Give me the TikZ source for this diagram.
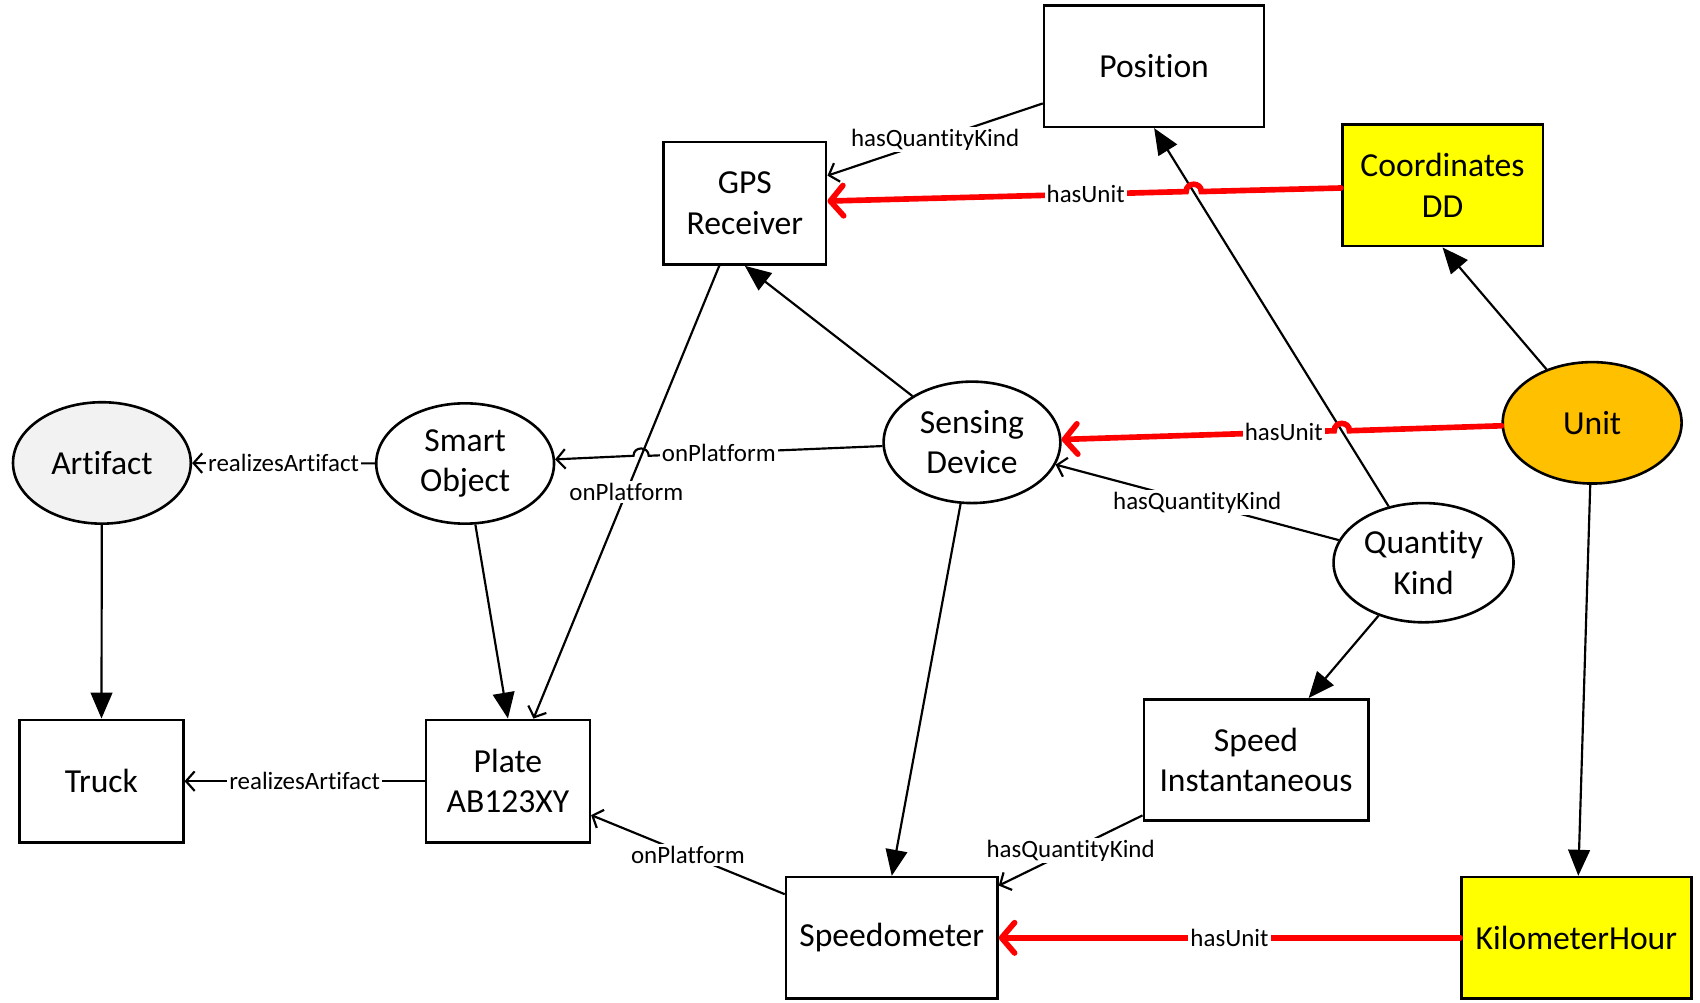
\documentclass[tikz,border=0pt]{standalone}
\usepackage{fontspec}
\setmainfont{Carlito}[Ligatures=NoCommon]
\usetikzlibrary{arrows.meta,calc,shapes.geometric}
\definecolor{unitorange}{HTML}{FFC000}
\definecolor{artgray}{HTML}{F2F2F2}
\definecolor{unityellow}{HTML}{FFFF00}
\begin{document}
\begin{tikzpicture}[x=0.5pt,y=-0.5pt,
  box/.style={draw, line width=1.2pt, rectangle, inner sep=0pt, align=center,
    font=\fontsize{15.5}{18.6}\selectfont},
  ell/.style={draw, line width=1.2pt, ellipse, inner sep=0pt, align=center,
    font=\fontsize{15.5}{18.6}\selectfont},
  isa/.style={line width=1pt, -{Triangle[length=12pt,width=10pt]}},
  rel/.style={line width=1pt, -{Straight Barb[length=4pt,width=9pt]}},
  unitrel/.style={draw=red, line width=2.6pt, line cap=round,
    -{Straight Barb[length=6pt,width=14pt,round]}},
  lbl/.style={fill=white, inner sep=1pt, text=black,
    font=\fontsize{11.5}{13}\selectfont}
]
\useasboundingbox (0,0) rectangle (1568,925);

% nodes
\node[box, minimum width=101.5pt, minimum height=56pt] (pos) at (1064.5,61) {Position};
\node[box, minimum width=75pt, minimum height=56.5pt] (gps) at (687,187.5) {GPS\\Receiver};
\node[box, fill=unityellow, minimum width=92.5pt, minimum height=56pt] (coord) at (1330.5,171) {Coordinates\\DD};
\node[ell, fill=unitorange, minimum width=82.5pt, minimum height=56pt] (unit) at (1468.5,390) {Unit};
\node[ell, minimum width=81.5pt, minimum height=56pt] (sd) at (896.5,408) {Sensing\\Device};
\node[ell, minimum width=82pt, minimum height=55.5pt] (so) at (429,427.5) {Smart\\Object};
\node[ell, fill=artgray, minimum width=82pt, minimum height=56pt] (art) at (94,427) {Artifact};
\node[ell, minimum width=83pt, minimum height=55pt] (qk) at (1313,519) {Quantity\\Kind};
\node[box, minimum width=103.5pt, minimum height=56pt] (si) at (1158.5,701) {Speed\\Instantaneous};
\node[box, minimum width=75.5pt, minimum height=56.5pt] (truck) at (93.5,720.5) {Truck};
\node[box, minimum width=75.5pt, minimum height=56.5pt] (plate) at (468.5,720.5) {Plate\\AB123XY};
\node[box, minimum width=97.5pt, minimum height=56pt] (speedo) at (822.5,865) {Speedometer};
\node[box, fill=unityellow, minimum width=106pt, minimum height=56pt] (kmh) at (1454,865) {KilometerHour};

% jump points
\coordinate (J1) at (1101,176.7);
\coordinate (J2) at (1237.6,397.3);
\coordinate (J3) at (591.3,420.4);

% black structural arrows
\draw[isa] (qk) -- (pos.south);
\draw[isa] (unit) -- (coord.south);
\draw[isa] (unit) -- (kmh);
\draw[isa] (qk) -- (si);
\draw[isa] (sd) -- (gps.south);
\draw[isa] (sd) -- (speedo.north);
\draw[isa] (so) -- (plate.north);
\draw[isa] (art) -- (truck);

% relations
\draw[rel] (pos) -- node[lbl]{hasQuantityKind} (gps);
\draw[rel] (qk) -- node[lbl]{hasQuantityKind} (sd);
\draw[rel] (si) -- node[lbl]{hasQuantityKind} (speedo);
\draw[rel] (gps) -- node[lbl]{onPlatform} (plate);
\draw[rel] (sd) -- node[lbl, pos=0.70]{onPlatform} ($(J3)+(7,0)$)
  .. controls ($(J3)+(7,-9)$) and ($(J3)+(-7,-9)$) .. ($(J3)+(-7,0)$) -- (so);
\draw[rel] (so) -- node[lbl]{realizesArtifact} (art);
\draw[rel] (plate) -- node[lbl]{realizesArtifact} (truck);
\draw[rel] (speedo) -- node[lbl]{onPlatform} (plate);

% red unit relations
\draw[unitrel] (coord) -- ($(J1)+(7,0)$)
  .. controls ($(J1)+(7,-9)$) and ($(J1)+(-7,-9)$) .. ($(J1)+(-7,0)$)
  -- node[lbl, pos=0.28]{hasUnit} (gps);
\draw[unitrel] (unit) -- ($(J2)+(7,0)$)
  .. controls ($(J2)+(7,-9)$) and ($(J2)+(-7,-9)$) .. ($(J2)+(-7,0)$)
  -- node[lbl, pos=0.185]{hasUnit} (sd);
\draw[unitrel] (kmh) -- node[lbl]{hasUnit} (speedo);
\end{tikzpicture}
\end{document}
